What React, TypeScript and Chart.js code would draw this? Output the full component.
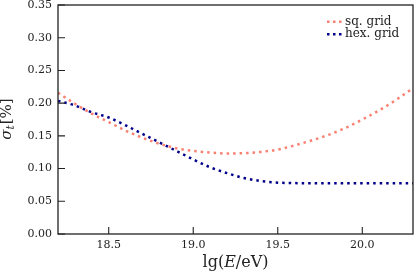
import React, { useEffect, useRef } from "react";
import { Chart, registerables } from "chart.js";

Chart.register(...registerables);

// ---- data ----
const energies = [18.2, 18.3, 18.4, 18.5, 18.6, 18.7, 18.8, 18.9, 19.0, 19.1, 19.2, 19.3, 19.4, 19.5, 19.6, 19.7, 19.8, 19.9, 20.0, 20.1, 20.2, 20.3];
const sqGrid = [0.216, 0.199, 0.184, 0.171, 0.158, 0.147, 0.138, 0.131, 0.127, 0.1245, 0.123, 0.1235, 0.1255, 0.129, 0.1355, 0.143, 0.1515, 0.162, 0.175, 0.189, 0.205, 0.223];
const hexGrid = [0.2035, 0.1965, 0.186, 0.178, 0.166, 0.153, 0.140, 0.127, 0.114, 0.102, 0.093, 0.0855, 0.081, 0.0785, 0.0778, 0.0776, 0.0775, 0.0775, 0.0775, 0.0775, 0.0775, 0.0775];
const seriesLabels = ["sq. grid", "hex. grid"];
const xTickValues = [18.5, 19.0, 19.5, 20.0];
const yTickValues = [0, 0.05, 0.1, 0.15, 0.2, 0.25, 0.3, 0.35];
const xRange = [18.2, 20.3];
const yRange = [0, 0.35];

const SALMON = "#FA8072";
const NAVY = "#00008B";
const INK = "#222222";
const SERIF = "'DejaVu Serif', serif";

const decorPlugin = {
  id: "decor",
  afterDraw(chart: any) {
    const { ctx, chartArea: a, scales } = chart;
    ctx.save();
    // frame
    ctx.strokeStyle = INK;
    ctx.lineWidth = 1.3;
    ctx.setLineDash([]);
    ctx.strokeRect(a.left, a.top, a.right - a.left, a.bottom - a.top);
    // inward ticks
    ctx.lineWidth = 1.1;
    ctx.beginPath();
    scales.x.ticks.forEach((t: any) => {
      const px = scales.x.getPixelForValue(t.value);
      ctx.moveTo(px, a.bottom);
      ctx.lineTo(px, a.bottom - 7);
    });
    scales.y.ticks.forEach((t: any) => {
      const py = scales.y.getPixelForValue(t.value);
      ctx.moveTo(a.left, py);
      ctx.lineTo(a.left + 7, py);
    });
    ctx.stroke();

    // legend
    chart.data.datasets.forEach((ds: any, i: number) => {
      const y = a.top + 16.7 + i * 12.6;
      ctx.strokeStyle = ds.borderColor;
      ctx.lineWidth = 2.5;
      ctx.lineCap = "butt";
      ctx.setLineDash([2.5, 3.5]);
      ctx.beginPath();
      ctx.moveTo(a.right - 86, y);
      ctx.lineTo(a.right - 71, y);
      ctx.stroke();
      ctx.setLineDash([]);
      ctx.fillStyle = INK;
      ctx.font = `12px ${SERIF}`;
      ctx.textAlign = "left";
      ctx.textBaseline = "middle";
      ctx.fillText(ds.label, a.right - 68, y);
    });

    // x title: lg(E/eV)
    ctx.fillStyle = INK;
    ctx.textBaseline = "alphabetic";
    ctx.textAlign = "left";
    const normal = `16px ${SERIF}`;
    const italic = `italic 16px ${SERIF}`;
    const parts: [string, string][] = [["lg(", normal], ["E", italic], ["/eV)", normal]];
    let total = 0;
    parts.forEach(([s, f]) => { ctx.font = f; total += ctx.measureText(s).width; });
    let x = (a.left + a.right) / 2 - total / 2;
    parts.forEach(([s, f]) => { ctx.font = f; ctx.fillText(s, x, 267); x += ctx.measureText(s).width; });

    // y title: sigma_t[%]
    ctx.save();
    ctx.translate(11, (a.top + a.bottom) / 2);
    ctx.rotate(-Math.PI / 2);
    const yparts: [string, string, number][] = [
      ["σ", `italic 15px ${SERIF}`, 0],
      ["t", `italic 10.5px ${SERIF}`, 3],
      ["[%]", `15px ${SERIF}`, 0],
    ];
    let yt = 0;
    yparts.forEach(([s, f]) => { ctx.font = f; yt += ctx.measureText(s).width; });
    let tx = -yt / 2;
    yparts.forEach(([s, f, dy]) => { ctx.font = f; ctx.fillText(s, tx, dy); tx += ctx.measureText(s).width + (s === "t" ? 1 : 0); });
    ctx.restore();

    ctx.restore();
  },
};

const bgPlugin = {
  id: "bg",
  beforeDraw(chart: any) {
    const { ctx, width, height } = chart;
    ctx.save();
    ctx.fillStyle = "#ffffff";
    ctx.fillRect(0, 0, width, height);
    ctx.restore();
  },
};

export default function App() {
  const ref = useRef<HTMLCanvasElement | null>(null);

  useEffect(() => {
    document.body.style.margin = "0";
    const canvas = ref.current;
    if (!canvas) return;
    const toPts = (ys: number[]) => energies.map((e, i) => ({ x: e, y: ys[i] }));
    const chart = new Chart(canvas, {
      type: "line",
      data: {
        datasets: [
          {
            label: seriesLabels[0],
            data: toPts(sqGrid),
            borderColor: SALMON,
            borderWidth: 2.5,
            borderDash: [2.5, 4],
            borderCapStyle: "butt",
            pointRadius: 0,
            cubicInterpolationMode: "monotone",
            fill: false,
          },
          {
            label: seriesLabels[1],
            data: toPts(hexGrid),
            borderColor: NAVY,
            borderWidth: 2.5,
            borderDash: [2.5, 4],
            borderCapStyle: "butt",
            pointRadius: 0,
            cubicInterpolationMode: "monotone",
            fill: false,
          },
        ],
      },
      options: {
        animation: false,
        responsive: false,
        devicePixelRatio: 1,
        layout: { padding: { top: 5, right: 2, left: 0, bottom: 0 } },
        plugins: { legend: { display: false }, tooltip: { enabled: false } },
        scales: {
          x: {
            type: "linear",
            min: xRange[0],
            max: xRange[1],
            grid: { display: false, drawTicks: false },
            border: { display: false },
            ticks: {
              padding: 5,
              color: INK,
              font: { family: SERIF, size: 11 },
              maxRotation: 0,
              callback: (v: any) => Number(v).toFixed(1),
            },
            afterBuildTicks: (s: any) => { s.ticks = xTickValues.map((v) => ({ value: v })); },
            afterFit: (s: any) => { s.height = 43; s.paddingLeft = 0; s.paddingRight = 0; },
          },
          y: {
            type: "linear",
            min: yRange[0],
            max: yRange[1],
            grid: { display: false, drawTicks: false },
            border: { display: false },
            ticks: {
              padding: 6,
              color: INK,
              font: { family: SERIF, size: 11 },
              callback: (v: any) => Number(v).toFixed(2),
            },
            afterBuildTicks: (s: any) => { s.ticks = yTickValues.map((v) => ({ value: v })); },
            afterFit: (s: any) => { s.width = 58; s.paddingTop = 0; s.paddingBottom = 0; },
          },
        },
      },
      plugins: [bgPlugin, decorPlugin],
    } as any);
    return () => chart.destroy();
  }, []);

  return (
    <div style={{ position: "fixed", left: 0, top: 0, width: 415, height: 277, background: "#fff" }}>
      <canvas ref={ref} width={415} height={277} style={{ display: "block" }} />
    </div>
  );
}
